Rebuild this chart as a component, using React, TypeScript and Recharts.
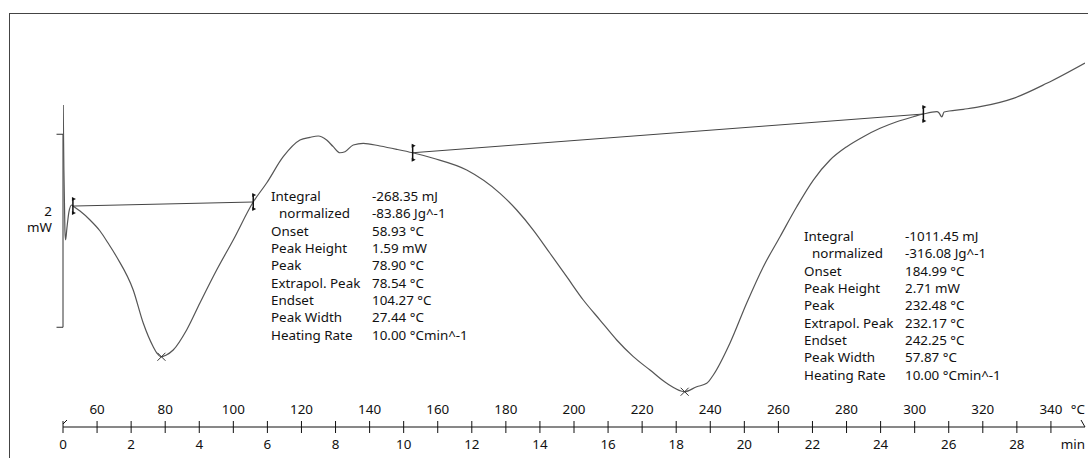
import { ComposedChart, Line, XAxis, YAxis, ReferenceLine } from 'recharts';

// DSC curve (temperature in °C, heat flow in mW, arbitrary offset)
const curveT = [
  50.06, 50.26, 50.56, 50.76, 51.15, 51.73, 52.52, 52.91, 55.0, 57.93,
  60.87, 63.22, 65.77, 70.61, 73.55, 76.48, 77.6, 78.74, 80.21, 82.35,
  86.29, 90.19, 95.1, 99.97, 105.84, 109.78, 114.65, 119.56, 122.49, 124.93,
  127.39, 129.33, 131.3, 132.77, 135.2, 138.14, 143.04, 147.94, 152.64, 158.69,
  168.5, 178.28, 183.18, 188.05, 192.95, 197.86, 202.73, 207.63, 212.54, 217.41,
  222.31, 227.22, 232.47, 236.02, 238.96, 240.9, 245.8, 250.7, 255.58, 260.48,
  265.38, 270.26, 275.16, 280.07, 284.94, 289.84, 294.75, 299.62, 302.56, 306.49,
  307.17, 307.96, 308.64, 314.3, 319.2, 328.98, 338.78, 350.0,
];
const curveMW = [
  3.342, 2.667, 2.044, 1.941, 2.065, 2.231, 2.304, 2.293, 2.241, 2.148,
  2.034, 1.909, 1.764, 1.422, 1.079, 0.833, 0.765, 0.729, 0.745, 0.799,
  1.007, 1.287, 1.629, 1.941, 2.335, 2.532, 2.805, 2.978, 3.006, 3.02,
  2.978, 2.909, 2.846, 2.857, 2.927, 2.944, 2.916, 2.882, 2.846, 2.789,
  2.667, 2.425, 2.252, 2.044, 1.803, 1.56, 1.318, 1.11, 0.903, 0.73,
  0.591, 0.453, 0.366, 0.418, 0.453, 0.54, 0.872, 1.287, 1.664, 1.975,
  2.286, 2.563, 2.771, 2.909, 3.013, 3.1, 3.168, 3.22, 3.248, 3.272,
  3.259, 3.217, 3.269, 3.297, 3.324, 3.411, 3.567, 3.778,
];

// integration limits (baseline ends) and peaks
const limitT = [52.91, 105.84, 152.64, 302.56];
const limitMW = [2.293, 2.335, 2.846, 3.248];
const peakT = [78.9, 232.48];
const peakMW = [0.729, 0.366];

// axis
const startTemp = 50;
const heatingRate = 10;
const axisTicks = [50, 60, 70, 80, 90, 100, 110, 120, 130, 140, 150, 160, 170, 180, 190, 200,
  210, 220, 230, 240, 250, 260, 270, 280, 290, 300, 310, 320, 330, 340, 350];
const tempLabels = [60, 80, 100, 120, 140, 160, 180, 200, 220, 240, 260, 280, 300, 320, 340];
const timeLabels = [0, 2, 4, 6, 8, 10, 12, 14, 16, 18, 20, 22, 24, 26, 28];

// evaluation tables
const evalLabels = ['Integral', 'normalized', 'Onset', 'Peak Height', 'Peak', 'Extrapol. Peak', 'Endset', 'Peak Width', 'Heating Rate'];
const evalPeak1 = ['-268.35 mJ', '-83.86 Jg^-1', '58.93 °C', '1.59 mW', '78.90 °C', '78.54 °C', '104.27 °C', '27.44 °C', '10.00 °Cmin^-1'];
const evalPeak2 = ['-1011.45 mJ', '-316.08 Jg^-1', '184.99 °C', '2.71 mW', '232.48 °C', '232.17 °C', '242.25 °C', '57.87 °C', '10.00 °Cmin^-1'];

const curve = curveT.map((T, i) => ({ T, v: curveMW[i] }));
const baseline1 = [0, 1].map((i) => ({ T: limitT[i], v: limitMW[i] }));
const baseline2 = [2, 3].map((i) => ({ T: limitT[i], v: limitMW[i] }));
const limits = limitT.map((T, i) => ({ T, v: limitMW[i] }));
const peaks = peakT.map((T, i) => ({ T, v: peakMW[i] }));

const font = '"Noto Sans", sans-serif';
const ink = '#111';

const AxisTick = (props: any) => {
  const { x, y, payload } = props;
  const T = payload.value;
  const minutes = (T - startTemp) / heatingRate;
  if (T === 350) {
    return (
      <g>
        <line x1={x - 4} y1={y - 7} x2={x} y2={y} stroke={ink} strokeWidth={1} />
        <text x={x} y={y - 13.5} textAnchor="end" fontSize={13.4} fontFamily={font} fill={ink}>°C</text>
        <text x={x} y={y + 22} textAnchor="end" fontSize={13.4} fontFamily={font} fill={ink}>min</text>
      </g>
    );
  }
  return (
    <g>
      <line x1={x} y1={y - 6} x2={x} y2={y + 6} stroke={ink} strokeWidth={1} />
      {T === startTemp && <line x1={x} y1={y - 3} x2={x + 4} y2={y - 7} stroke={ink} strokeWidth={1} />}
      {tempLabels.includes(T) && (
        <text x={x} y={y - 13.5} textAnchor="middle" fontSize={13.4} fontFamily={font} fill={ink}>{T}</text>
      )}
      {timeLabels.includes(minutes) && (
        <text x={x} y={y + 22} textAnchor="middle" fontSize={13.4} fontFamily={font} fill={ink}>{minutes}</text>
      )}
    </g>
  );
};

const LimitMark = (props: any) => {
  const { cx, cy, index } = props;
  if (cx == null || cy == null) return <g key={`lim-${index}`} />;
  return (
    <g key={`lim-${index}`}>
      <line x1={cx} y1={cy - 8} x2={cx} y2={cy + 8} stroke="#111" strokeWidth={1.5} />
      <path d={`M${cx - 1},${cy - 9} L${cx + 3},${cy - 7} L${cx - 1},${cy - 5} Z`} fill="#111" />
      <path d={`M${cx - 1},${cy + 5} L${cx + 3},${cy + 7} L${cx - 1},${cy + 9} Z`} fill="#111" />
    </g>
  );
};

const PeakMark = (props: any) => {
  const { cx, cy, index } = props;
  if (cx == null || cy == null) return <g key={`pk-${index}`} />;
  return (
    <g key={`pk-${index}`} stroke="#333" strokeWidth={1}>
      <line x1={cx - 4} y1={cy - 4} x2={cx + 4} y2={cy + 4} />
      <line x1={cx - 4} y1={cy + 4} x2={cx + 4} y2={cy - 4} />
    </g>
  );
};

function EvalTable({ left, top, values }: { left: number; top: number; values: string[] }) {
  return (
    <div style={{ position: 'absolute', left, top, fontFamily: font, fontSize: 13.4, lineHeight: '17.35px', color: ink, whiteSpace: 'nowrap' }}>
      {evalLabels.map((label, i) => (
        <div key={label} style={{ display: 'flex' }}>
          <span style={{ width: 101, paddingLeft: i === 1 ? 8 : 0, boxSizing: 'border-box' }}>{label}</span>
          <span>{values[i]}</span>
        </div>
      ))}
    </div>
  );
}

export default function App() {
  return (
    <div style={{ position: 'absolute', left: 0, top: 0, width: 1088, height: 458, overflow: 'hidden', background: '#fff' }}>
      <div style={{ position: 'absolute', left: 9, top: 13, width: 1100, height: 460, borderLeft: '1px solid #444', borderTop: '1px solid #444' }} />
      <ComposedChart width={1088} height={458} margin={{ top: 30, right: 3, left: 63, bottom: 1 }}>
        <XAxis
          dataKey="T"
          type="number"
          domain={[50, 350]}
          allowDataOverflow
          ticks={axisTicks}
          interval={0}
          tick={<AxisTick />}
          tickLine={false}
          tickSize={0}
          tickMargin={0}
          height={30}
          stroke={ink}
        />
        <YAxis type="number" domain={[0, 4.12]} allowDataOverflow hide />
        <ReferenceLine segment={[{ x: 50, y: 1.035 }, { x: 50, y: 3.038 }]} stroke="#333" ifOverflow="visible" />
        <ReferenceLine segment={[{ x: 48.1, y: 3.038 }, { x: 50, y: 3.038 }]} stroke="#333" ifOverflow="visible" />
        <ReferenceLine segment={[{ x: 48.1, y: 1.035 }, { x: 50, y: 1.035 }]} stroke="#333" ifOverflow="visible" />
        <Line data={baseline1} dataKey="v" type="linear" stroke="#444" strokeWidth={1} dot={false} isAnimationActive={false} />
        <Line data={baseline2} dataKey="v" type="linear" stroke="#444" strokeWidth={1} dot={false} isAnimationActive={false} />
        <Line data={curve} dataKey="v" type="monotone" stroke="#555" strokeWidth={1.2} dot={false} isAnimationActive={false} />
        <Line data={limits} dataKey="v" stroke="none" dot={LimitMark} activeDot={false} isAnimationActive={false} />
        <Line data={peaks} dataKey="v" stroke="none" dot={PeakMark} activeDot={false} isAnimationActive={false} />
      </ComposedChart>
      <div style={{ position: 'absolute', left: 20, top: 203, width: 32, textAlign: 'right', fontFamily: font, fontSize: 13.4, lineHeight: '16px', color: ink }}>
        <div>2</div>
        <div>mW</div>
      </div>
      <EvalTable left={271} top={188} values={evalPeak1} />
      <EvalTable left={804} top={228} values={evalPeak2} />
    </div>
  );
}
